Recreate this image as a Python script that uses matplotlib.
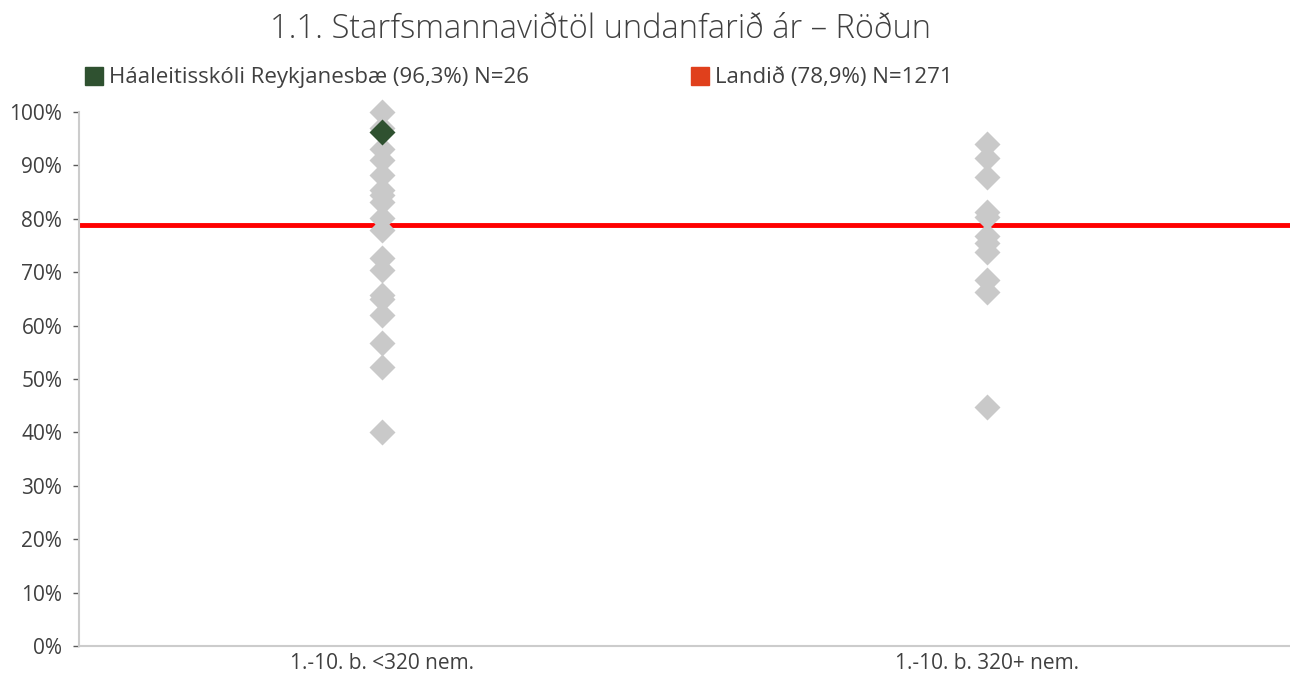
import matplotlib
matplotlib.use("Agg")
import matplotlib.pyplot as plt
from matplotlib.lines import Line2D
from matplotlib.ticker import PercentFormatter

categories = ["1.-10. b. <320 nem.", "1.-10. b. 320+ nem."]
group_small = [100, 97, 93, 91, 88.2, 85.4, 84.5, 83.2, 80.2, 77.9, 72.7, 70.4, 65.7, 64.9, 62, 56.7, 52.3, 40.1]
group_large = [94.1, 91.3, 87.9, 81.3, 80.4, 76.7, 75.4, 73.8, 68.5, 66.3, 44.8]
school_value = 96.3
school_cat = 0
national_value = 78.9
title = "1.1. Starfsmannaviðtöl undanfarið ár – Röðun"
legend_school = "Háaleitisskóli Reykjanesbæ (96,3%) N=26"
legend_national = "Landið (78,9%) N=1271"

plt.rcParams['font.family'] = ['Open Sans', 'DejaVu Sans']

fig = plt.figure(figsize=(12.9, 6.75), dpi=100)
ax = fig.add_axes([79/1290, 1-646/675, 1-79/1290, (646-112)/675])

gray = "#c9c9c9"
ms = 13
ax.plot([0]*len(group_small), group_small, linestyle="none", marker="D", ms=ms,
        color=gray, mec="none", clip_on=False, zorder=3)
ax.plot([1]*len(group_large), group_large, linestyle="none", marker="D", ms=ms,
        color=gray, mec="none", clip_on=False, zorder=3)
ax.axhline(national_value, color="#ff0000", lw=3.5, zorder=2)
ax.plot([school_cat], [school_value], linestyle="none", marker="D", ms=ms,
        color="#2f5130", mec="none", clip_on=False, zorder=4)

ax.set_xlim(-0.5, 1.5)
ax.set_ylim(0, 100)
ax.set_yticks(range(0, 101, 10))
ax.yaxis.set_major_formatter(PercentFormatter(decimals=0))
ax.set_xticks([0, 1])
ax.set_xticklabels(categories)
for s in ["top", "right"]:
    ax.spines[s].set_visible(False)
for s in ["left", "bottom"]:
    ax.spines[s].set_color("#cccccc")
    ax.spines[s].set_linewidth(1.5)
ax.tick_params(axis="y", length=4, width=1, color="#595959", labelsize=15, labelcolor="#404040", pad=8)
ax.tick_params(axis="x", length=0, labelsize=15, labelcolor="#404040", pad=5)

fig.text(600/1290, 0.957, title, ha="center", va="center", fontsize=23.5, color="#404040",
         fontweight="light")

h1 = Line2D([], [], linestyle="none", marker="s", ms=12.5, color="#2f5130")
h2 = Line2D([], [], linestyle="none", marker="s", ms=12.5, color="#e0401c")
leg1 = fig.legend([h1], [legend_school], loc="center left", bbox_to_anchor=(63/1290, 1-78/675),
                  frameon=False, fontsize=16, handletextpad=0.15, handlelength=1.0, labelcolor="#404040")
leg2 = fig.legend([h2], [legend_national], loc="center left", bbox_to_anchor=(669/1290, 1-78/675),
                  frameon=False, fontsize=16, handletextpad=0.15, handlelength=1.0, labelcolor="#404040")

fig.savefig("out.png", dpi=100)
